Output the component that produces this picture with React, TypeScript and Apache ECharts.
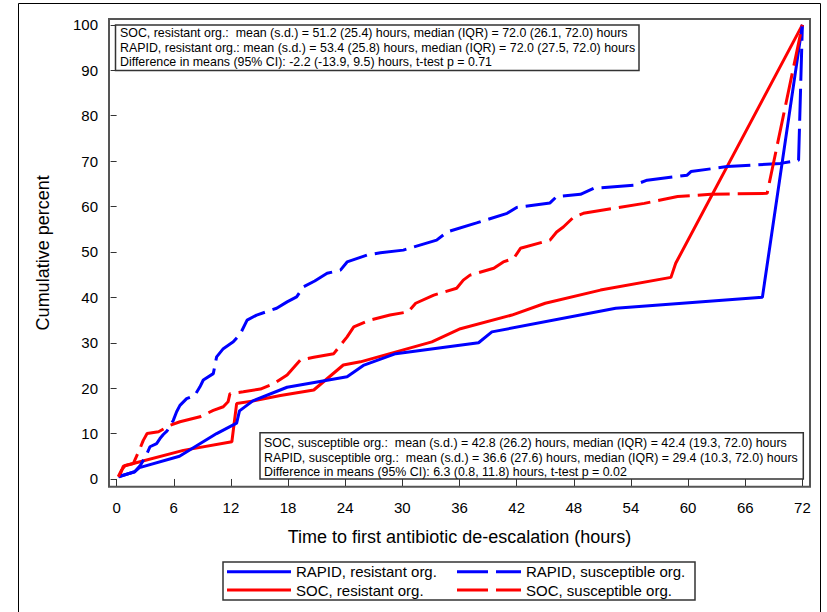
import React, { useEffect, useRef } from "react";
import * as echarts from "echarts";

const xTicks = [0, 6, 12, 18, 24, 30, 36, 42, 48, 54, 60, 66, 72];
const yTicks = [0, 10, 20, 30, 40, 50, 60, 70, 80, 90, 100];

const rapidResistant: number[][] = [
  [0.2, 0.5], [1.9, 1.6], [2.4, 2.5], [6.6, 5.0], [10.5, 10.0], [12.6, 12.3], [12.9, 15.0],
  [14.3, 17.2], [17.9, 20.2], [24.2, 22.5], [25.9, 25.0], [29.3, 27.6], [38.0, 30.0],
  [39.4, 32.4], [52.4, 37.6], [67.8, 40.0], [72.0, 100],
];

const socResistant: number[][] = [
  [0.35, 0.8], [0.7, 2.8], [1.75, 3.4], [7.0, 6.3], [12.1, 8.2], [12.6, 16.6], [14.4, 17.2],
  [17.2, 18.4], [20.7, 19.6], [23.8, 25.1], [25.6, 25.8], [33.1, 30.2], [36.1, 33.1],
  [41.5, 36.1], [45.0, 38.7], [50.8, 41.6], [58.2, 44.4], [58.7, 47.5], [72.0, 100],
];

const rapidSusceptible: number[][] = [
  [0.2, 0.5], [1.9, 1.6], [2.5, 3.0], [3.15, 5.4], [3.5, 7.1], [4.2, 7.8], [4.55, 8.9],
  [4.9, 9.8], [5.3, 10.6], [5.95, 12.9], [6.3, 14.8], [6.65, 16.2], [7.35, 17.7], [8.2, 18.4],
  [8.75, 20.3], [9.1, 21.8], [10.15, 23.2], [10.5, 26.9], [11.2, 28.7], [12.25, 30.2],
  [13.0, 32.0], [13.7, 35.0], [14.7, 36.1], [16.8, 37.6], [17.9, 39.0], [18.9, 40.1],
  [19.6, 42.3], [20.8, 43.6], [22.1, 45.3], [23.5, 46.0], [24.2, 47.8], [26.3, 49.3],
  [27.7, 49.8], [30.1, 50.4], [31.2, 51.1], [33.6, 52.6], [34.7, 54.4], [37.8, 56.4],
  [41.0, 58.5], [42.0, 59.8], [45.5, 60.8], [46.2, 62.2], [48.7, 62.7], [50.1, 64.0],
  [54.3, 64.7], [55.7, 65.8], [59.9, 66.9], [60.3, 67.7], [64.1, 68.8], [69.7, 69.5],
  [71.6, 70.2], [72.0, 100],
];

const socSusceptible: number[][] = [
  [0.17, 0.5], [0.5, 1.9], [0.9, 3.0], [1.75, 3.4], [2.45, 6.7], [2.8, 8.5], [3.2, 10.0],
  [4.4, 10.4], [5.6, 11.8], [6.65, 12.6], [8.75, 13.7], [10.15, 15.1], [11.2, 15.9],
  [11.7, 17.0], [11.9, 18.8], [13.3, 19.2], [15.1, 19.8], [16.5, 21.0], [17.9, 22.9],
  [19.3, 26.2], [20.7, 26.8], [22.8, 27.6], [24.2, 31.3], [24.9, 33.5], [26.6, 35.0],
  [28.7, 36.1], [30.6, 36.8], [31.4, 38.7], [33.3, 40.5], [35.7, 42.0], [36.4, 43.8],
  [37.1, 44.9], [39.6, 46.4], [40.6, 47.8], [41.7, 48.6], [42.4, 50.8], [45.5, 52.6],
  [46.2, 54.4], [46.9, 55.5], [48.0, 57.7], [49.0, 58.5], [52.2, 59.6], [55.4, 60.7],
  [58.9, 62.2], [62.4, 62.7], [68.3, 62.9], [72.0, 100],
];

const topBoxLines = [
  "SOC, resistant org.:  mean (s.d.) = 51.2 (25.4) hours, median (IQR) = 72.0 (26.1, 72.0) hours",
  "RAPID, resistant org.: mean (s.d.) = 53.4 (25.8) hours, median (IQR) = 72.0 (27.5, 72.0) hours",
  "Difference in means (95% CI): -2.2 (-13.9, 9.5) hours, t-test p = 0.71",
];

const bottomBoxLines = [
  "SOC, susceptible org.:  mean (s.d.) = 42.8 (26.2) hours, median (IQR) = 42.4 (19.3, 72.0) hours",
  "RAPID, susceptible org.:  mean (s.d.) = 36.6 (27.6) hours, median (IQR) = 29.4 (10.3, 72.0) hours",
  "Difference in means (95% CI): 6.3 (0.8, 11.8) hours, t-test p = 0.02",
];

const FONT = "'Liberation Sans', Arial, Helvetica, sans-serif";
const BLUE = "#0000ff";
const RED = "#ff0000";
const DASH = [32, 8];
const SOLID_ICON = "path://M0,0H64V3H0Z";
const DASH_ICON = "path://M0,0H31V3H0Z M39,0H64V3H39Z";

function textBox(x: number, y: number, w: number, h: number, lines: string[], tx: number, ty0: number) {
  return {
    type: "group",
    children: [
      {
        type: "rect",
        shape: { x, y, width: w, height: h },
        style: { fill: "#fff", stroke: "#333", lineWidth: 1.5 },
        z: 10,
      },
      ...lines.map((t, i) => ({
        type: "text",
        x: tx,
        y: ty0 + i * 14.3,
        style: {
          text: t,
          font: `12.4px ${FONT}`,
          fill: "#000",
          verticalAlign: "middle",
        },
        z: 11,
      })),
    ],
  };
}

export default function App() {
  const ref = useRef<HTMLDivElement>(null);
  useEffect(() => {
    if (!ref.current) return;
    const chart = echarts.init(ref.current, null, { renderer: "svg" });
    const lineSeries = (name: string, data: number[][], color: string, dashed: boolean, z: number) => ({
      name,
      type: "line",
      data,
      showSymbol: false,
      symbol: "none",
      z,
      lineStyle: { color, width: 3, type: dashed ? DASH : "solid" },
      itemStyle: { color },
    });
    const legendBase = {
      orient: "vertical",
      top: 559.2,
      padding: 5,
      itemWidth: 64,
      itemHeight: 3,
      itemGap: 3.3,
      symbolKeepAspect: false,
      textStyle: { fontSize: 15, color: "#000", fontFamily: FONT, lineHeight: 15 },
      selectedMode: false,
      z: 20,
    };
    chart.setOption({
      animation: false,
      backgroundColor: "#fff",
      textStyle: { fontFamily: FONT },
      grid: {
        left: 109,
        top: 19,
        right: 17,
        bottom: 125.3,
        show: true,
        borderColor: "#555",
        borderWidth: 2,
        containLabel: false,
      },
      xAxis: {
        type: "value",
        min: -0.8,
        max: 72.8,
        name: "Time to first antibiotic de-escalation (hours)",
        nameLocation: "middle",
        nameGap: 41,
        nameTextStyle: { fontSize: 18, color: "#000", fontFamily: FONT },
        axisLine: { show: false },
        axisTick: {
          show: true,
          length: 7,
          customValues: xTicks,
          lineStyle: { color: "#333", width: 1 },
        },
        axisLabel: {
          customValues: xTicks,
          fontSize: 15,
          color: "#000",
          margin: 13,
          fontFamily: FONT,
        },
        splitLine: { show: false },
      },
      yAxis: {
        type: "value",
        min: -1.7,
        max: 101.3,
        name: "Cumulative percent",
        nameLocation: "middle",
        nameGap: 57,
        nameTextStyle: { fontSize: 18, color: "#000", fontFamily: FONT },
        axisLine: { show: false },
        axisTick: {
          show: true,
          length: 6,
          customValues: yTicks,
          lineStyle: { color: "#333", width: 1 },
        },
        axisLabel: {
          customValues: yTicks,
          fontSize: 15,
          color: "#000",
          margin: 11,
          fontFamily: FONT,
        },
        splitLine: { show: false },
      },
      legend: [
        {
          ...legendBase,
          left: 222,
          data: [
            { name: "RAPID, resistant org.", icon: SOLID_ICON },
            { name: "SOC, resistant org.", icon: SOLID_ICON },
          ],
        },
        {
          ...legendBase,
          left: 452,
          data: [
            { name: "RAPID, susceptible org.", icon: DASH_ICON },
            { name: "SOC, susceptible org.", icon: DASH_ICON },
          ],
        },
      ],
      graphic: [
        {
          type: "rect",
          shape: { x: 18.5, y: 3.5, width: 802, height: 640 },
          style: { fill: "none", stroke: "#000", lineWidth: 1 },
          silent: true,
          z: 0,
        },
        {
          type: "rect",
          shape: { x: 223, y: 562, width: 472, height: 38 },
          style: { fill: "#fff", stroke: "#333", lineWidth: 1.5 },
          silent: true,
          z: 1,
        },
        textBox(115.5, 25, 523.5, 45.5, topBoxLines, 120, 33.3),
        textBox(260, 432.7, 543.3, 46.3, bottomBoxLines, 264, 443.3),
      ],
      series: [
        lineSeries("SOC, resistant org.", socResistant, RED, false, 2),
        lineSeries("RAPID, resistant org.", rapidResistant, BLUE, false, 3),
        lineSeries("RAPID, susceptible org.", rapidSusceptible, BLUE, true, 4),
        lineSeries("SOC, susceptible org.", socSusceptible, RED, true, 5),
      ],
    });
    return () => chart.dispose();
  }, []);
  return (
    <div
      ref={ref}
      style={{ position: "absolute", left: 0, top: 0, width: 827, height: 612 }}
    />
  );
}
